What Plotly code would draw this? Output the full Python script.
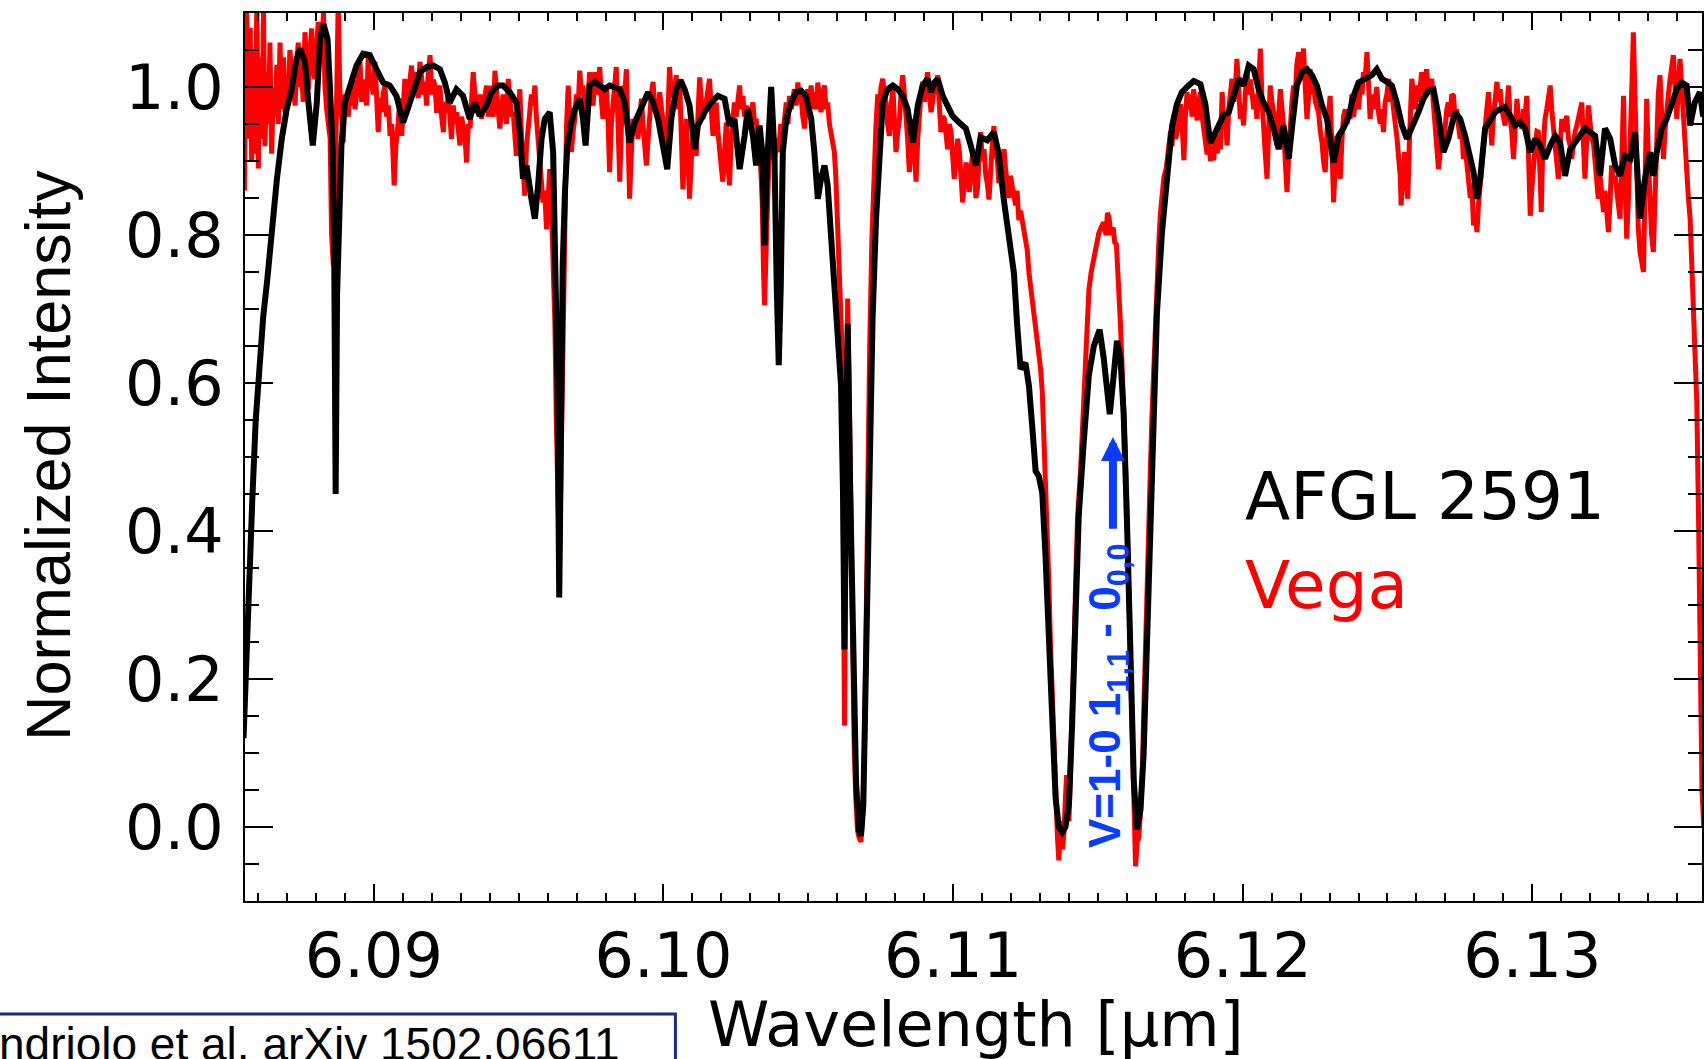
import plotly.graph_objects as go

# ---------------- data ----------------
afgl_wavelength = [
    6.08550, 6.08555, 6.08568, 6.08580, 6.08592, 6.08605, 6.08618, 6.08632, 6.08647, 6.08665,
    6.08682, 6.08699, 6.08716, 6.08733, 6.08745, 6.08762, 6.08774, 6.08789, 6.08803, 6.08814,
    6.08826, 6.08840, 6.08848, 6.08858, 6.08863, 6.08868, 6.08873, 6.08878, 6.08883, 6.08888,
    6.08900, 6.08917, 6.08940, 6.08963, 6.08986, 6.09009, 6.09032, 6.09055, 6.09078, 6.09101,
    6.09118, 6.09136, 6.09159, 6.09182, 6.09205, 6.09228, 6.09245, 6.09262, 6.09285, 6.09308,
    6.09331, 6.09348, 6.09366, 6.09389, 6.09406, 6.09429, 6.09446, 6.09469, 6.09492, 6.09504,
    6.09515, 6.09527, 6.09544, 6.09556, 6.09567, 6.09579, 6.09590, 6.09607, 6.09619, 6.09627,
    6.09634, 6.09640, 6.09646, 6.09652, 6.09660, 6.09668, 6.09680, 6.09694, 6.09711, 6.09722,
    6.09731, 6.09745, 6.09763, 6.09780, 6.09797, 6.09814, 6.09832, 6.09849, 6.09866, 6.09883,
    6.09901, 6.09924, 6.09947, 6.09964, 6.09981, 6.09998, 6.10013, 6.10027, 6.10044, 6.10059,
    6.10073, 6.10090, 6.10108, 6.10119, 6.10142, 6.10165, 6.10188, 6.10211, 6.10228, 6.10245,
    6.10263, 6.10280, 6.10291, 6.10309, 6.10320, 6.10332, 6.10341, 6.10349, 6.10357, 6.10372,
    6.10383, 6.10391, 6.10398, 6.10405, 6.10412, 6.10424, 6.10441, 6.10458, 6.10475, 6.10492,
    6.10510, 6.10521, 6.10533, 6.10544, 6.10556, 6.10567, 6.10579, 6.10590, 6.10602, 6.10613,
    6.10620, 6.10625, 6.10630, 6.10636, 6.10645, 6.10655, 6.10665, 6.10675, 6.10682, 6.10690,
    6.10700, 6.10711, 6.10722, 6.10734, 6.10745, 6.10757, 6.10774, 6.10792, 6.10809, 6.10826,
    6.10843, 6.10861, 6.10878, 6.10895, 6.10912, 6.10924, 6.10935, 6.10947, 6.10964, 6.10981,
    6.10998, 6.11021, 6.11044, 6.11061, 6.11079, 6.11095, 6.11118, 6.11141, 6.11158, 6.11175,
    6.11193, 6.11210, 6.11221, 6.11233, 6.11250, 6.11262, 6.11273, 6.11285, 6.11296, 6.11308,
    6.11319, 6.11331, 6.11342, 6.11354, 6.11365, 6.11377, 6.11388, 6.11400, 6.11411, 6.11423,
    6.11434, 6.11451, 6.11469, 6.11486, 6.11497, 6.11506, 6.11520, 6.11532, 6.11541, 6.11553,
    6.11566, 6.11578, 6.11589, 6.11601, 6.11612, 6.11624, 6.11635, 6.11647, 6.11658, 6.11670,
    6.11681, 6.11693, 6.11704, 6.11721, 6.11739, 6.11756, 6.11773, 6.11790, 6.11808, 6.11831,
    6.11854, 6.11871, 6.11888, 6.11905, 6.11923, 6.11934, 6.11952, 6.11969, 6.11986, 6.12003,
    6.12021, 6.12038, 6.12055, 6.12072, 6.12090, 6.12107, 6.12124, 6.12141, 6.12159, 6.12170,
    6.12187, 6.12205, 6.12222, 6.12239, 6.12256, 6.12274, 6.12291, 6.12314, 6.12331, 6.12348,
    6.12366, 6.12383, 6.12400, 6.12423, 6.12446, 6.12463, 6.12481, 6.12498, 6.12515, 6.12532,
    6.12550, 6.12567, 6.12584, 6.12607, 6.12624, 6.12642, 6.12659, 6.12676, 6.12693, 6.12710,
    6.12733, 6.12751, 6.12768, 6.12780, 6.12797, 6.12809, 6.12820, 6.12837, 6.12855, 6.12872,
    6.12889, 6.12906, 6.12924, 6.12941, 6.12958, 6.12975, 6.12993, 6.13010, 6.13027, 6.13044,
    6.13062, 6.13079, 6.13096, 6.13113, 6.13131, 6.13148, 6.13165, 6.13182, 6.13200, 6.13217,
    6.13234, 6.13251, 6.13269, 6.13286, 6.13303, 6.13320, 6.13338, 6.13355, 6.13372, 6.13389,
    6.13407, 6.13418, 6.13430, 6.13447, 6.13464, 6.13481, 6.13499, 6.13516, 6.13533, 6.13545,
    6.13561, 6.13579, 6.13590,
]
afgl_intensity = [
    0.12, 0.18, 0.32, 0.44, 0.55, 0.63, 0.69, 0.74, 0.81, 0.875,
    0.93, 0.97, 0.997, 1.038, 1.052, 1.034, 0.979, 0.921, 0.979, 1.065,
    1.085, 1.065, 1.002, 0.912, 0.78, 0.45, 0.72, 0.80, 0.85, 0.921,
    0.979, 1.002, 1.029, 1.045, 1.043, 1.024, 1.006, 1.002, 0.988, 0.952,
    0.97, 0.993, 1.02, 1.027, 1.029, 1.024, 1.006, 0.979, 0.997, 0.988,
    0.957, 0.979, 0.961, 0.975, 0.993, 1.002, 1.002, 0.993, 0.979, 0.939,
    0.876, 0.894, 0.849, 0.822, 0.867, 0.93, 0.957, 0.966, 0.912, 0.777,
    0.60, 0.31, 0.60, 0.76, 0.86, 0.92, 0.95, 0.97, 0.984, 0.957,
    0.921, 1.002, 1.007, 1.002, 0.997, 1.002, 1.0, 0.997, 0.979, 0.925,
    0.952, 0.975, 0.993, 0.979, 0.957, 0.921, 0.889, 0.957, 0.997, 1.009,
    0.997, 0.975, 0.916, 0.948, 0.966, 0.979, 0.988, 0.984, 0.948, 0.957,
    0.889, 0.934, 0.97, 0.934, 0.894, 0.948, 0.912, 0.786, 0.889, 1.0,
    0.912, 0.732, 0.624, 0.732, 0.912, 0.957, 0.979, 0.993, 0.995, 0.988,
    0.957, 0.912, 0.849, 0.876, 0.894, 0.867, 0.80, 0.732, 0.687, 0.597,
    0.45, 0.24, 0.45, 0.68, 0.45, 0.22, 0.06, -0.005, -0.012, 0.03,
    0.25, 0.552, 0.687, 0.822, 0.912, 0.979, 0.997, 1.002, 0.997, 0.988,
    0.97, 0.925, 0.975, 1.002, 1.011, 0.993, 1.006, 1.011, 0.988, 0.975,
    0.961, 0.952, 0.944, 0.921, 0.894, 0.932, 0.928, 0.939, 0.909, 0.848,
    0.802, 0.749, 0.68, 0.619, 0.627, 0.596, 0.543, 0.481, 0.474, 0.451,
    0.367, 0.252, 0.138, 0.039, 0.0, -0.007, 0.0, 0.031, 0.138, 0.291,
    0.421, 0.52, 0.611, 0.65, 0.665, 0.672, 0.634, 0.588, 0.558, 0.604,
    0.657, 0.634, 0.558, 0.405, 0.215, 0.062, -0.003, 0.023, 0.099, 0.252,
    0.405, 0.558, 0.695, 0.802, 0.886, 0.947, 0.977, 0.993, 1.0, 1.008,
    1.004, 0.977, 0.924, 0.939, 0.955, 0.962, 0.966, 0.988, 1.011, 1.002,
    1.029, 1.024, 0.997, 0.979, 0.966, 0.944, 0.916, 0.948, 0.903, 0.944,
    1.002, 1.02, 1.024, 1.016, 1.002, 0.975, 0.957, 0.898, 0.934, 0.944,
    0.961, 0.988, 1.006, 1.011, 1.016, 1.024, 1.011, 1.007, 1.002, 0.979,
    0.948, 0.93, 0.944, 0.966, 0.984, 0.995, 0.997, 0.961, 0.912, 0.93,
    0.966, 0.957, 0.934, 0.912, 0.885, 0.849, 0.876, 0.944, 0.957, 0.966,
    0.97, 0.973, 0.961, 0.948, 0.952, 0.944, 0.912, 0.93, 0.921, 0.903,
    0.921, 0.934, 0.925, 0.88, 0.916, 0.925, 0.934, 0.944, 0.939, 0.934,
    0.88, 0.944, 0.93, 0.894, 0.88, 0.907, 0.903, 0.939, 0.822, 0.876,
    0.912, 0.88, 0.912, 0.944, 0.957, 0.979, 0.997, 1.006, 1.002, 0.948,
    0.979, 0.993, 0.96,
]

vega_wavelength = [
    6.08553, 6.08560, 6.08567, 6.08573, 6.08578, 6.08584, 6.08590, 6.08596, 6.08601, 6.08607,
    6.08613, 6.08619, 6.08624, 6.08630, 6.08636, 6.08641, 6.08647, 6.08653, 6.08659, 6.08665,
    6.08670, 6.08676, 6.08682, 6.08688, 6.08693, 6.08699, 6.08705, 6.08710, 6.08716, 6.08722,
    6.08728, 6.08733, 6.08739, 6.08745, 6.08751, 6.08756, 6.08762, 6.08768, 6.08774, 6.08780,
    6.08785, 6.08791, 6.08797, 6.08803, 6.08808, 6.08814, 6.08820, 6.08826, 6.08831, 6.08837,
    6.08843, 6.08849, 6.08854, 6.08860, 6.08866, 6.08871, 6.08877, 6.08882, 6.08888, 6.08894,
    6.08900, 6.08906, 6.08912, 6.08917, 6.08923, 6.08929, 6.08935, 6.08940, 6.08946, 6.08952,
    6.08958, 6.08963, 6.08969, 6.08975, 6.08981, 6.08986, 6.08992, 6.08998, 6.09004, 6.09009,
    6.09015, 6.09021, 6.09027, 6.09032, 6.09038, 6.09044, 6.09050, 6.09056, 6.09062, 6.09070,
    6.09076, 6.09084, 6.09090, 6.09096, 6.09101, 6.09107, 6.09113, 6.09119, 6.09125, 6.09130,
    6.09136, 6.09142, 6.09148, 6.09153, 6.09159, 6.09165, 6.09171, 6.09176, 6.09182, 6.09188,
    6.09194, 6.09200, 6.09205, 6.09211, 6.09217, 6.09222, 6.09228, 6.09234, 6.09240, 6.09245,
    6.09251, 6.09257, 6.09263, 6.09268, 6.09274, 6.09280, 6.09286, 6.09291, 6.09297, 6.09303,
    6.09309, 6.09315, 6.09320, 6.09326, 6.09332, 6.09337, 6.09343, 6.09349, 6.09355, 6.09360,
    6.09366, 6.09372, 6.09378, 6.09383, 6.09389, 6.09395, 6.09400, 6.09406, 6.09412, 6.09418,
    6.09423, 6.09429, 6.09435, 6.09441, 6.09446, 6.09452, 6.09458, 6.09464, 6.09469, 6.09475,
    6.09481, 6.09487, 6.09492, 6.09498, 6.09504, 6.09510, 6.09515, 6.09521, 6.09527, 6.09533,
    6.09538, 6.09544, 6.09550, 6.09556, 6.09561, 6.09567, 6.09573, 6.09579, 6.09584, 6.09590,
    6.09596, 6.09602, 6.09607, 6.09613, 6.09619, 6.09625, 6.09630, 6.09635, 6.09641, 6.09647,
    6.09655, 6.09660, 6.09665, 6.09671, 6.09676, 6.09682, 6.09688, 6.09694, 6.09699, 6.09705,
    6.09711, 6.09717, 6.09722, 6.09728, 6.09734, 6.09740, 6.09745, 6.09751, 6.09757, 6.09763,
    6.09768, 6.09774, 6.09780, 6.09786, 6.09791, 6.09797, 6.09803, 6.09809, 6.09814, 6.09820,
    6.09826, 6.09832, 6.09837, 6.09843, 6.09849, 6.09855, 6.09860, 6.09866, 6.09872, 6.09878,
    6.09883, 6.09889, 6.09895, 6.09901, 6.09906, 6.09912, 6.09918, 6.09924, 6.09929, 6.09935,
    6.09941, 6.09947, 6.09952, 6.09958, 6.09964, 6.09970, 6.09975, 6.09981, 6.09987, 6.09993,
    6.09998, 6.10004, 6.10010, 6.10016, 6.10021, 6.10027, 6.10033, 6.10039, 6.10044, 6.10050,
    6.10056, 6.10062, 6.10067, 6.10073, 6.10079, 6.10085, 6.10090, 6.10096, 6.10102, 6.10108,
    6.10113, 6.10119, 6.10125, 6.10131, 6.10136, 6.10142, 6.10148, 6.10153, 6.10159, 6.10165,
    6.10171, 6.10176, 6.10182, 6.10188, 6.10194, 6.10200, 6.10205, 6.10211, 6.10217, 6.10222,
    6.10228, 6.10234, 6.10245, 6.10251, 6.10257, 6.10263, 6.10268, 6.10274, 6.10280, 6.10286,
    6.10291, 6.10297, 6.10303, 6.10309, 6.10314, 6.10320, 6.10326, 6.10332, 6.10337, 6.10341,
    6.10345, 6.10349, 6.10353, 6.10357, 6.10364, 6.10372, 6.10377, 6.10383, 6.10390, 6.10398,
    6.10405, 6.10412, 6.10418, 6.10424, 6.10430, 6.10435, 6.10441, 6.10447, 6.10452, 6.10458,
    6.10464, 6.10470, 6.10475, 6.10481, 6.10487, 6.10492, 6.10498, 6.10504, 6.10510, 6.10515,
    6.10521, 6.10527, 6.10533, 6.10538, 6.10544, 6.10550, 6.10556, 6.10561, 6.10567, 6.10573,
    6.10579, 6.10584, 6.10590, 6.10595, 6.10598, 6.10603, 6.10608, 6.10613, 6.10617, 6.10621,
    6.10625, 6.10630, 6.10636, 6.10641, 6.10646, 6.10652, 6.10658, 6.10664, 6.10670, 6.10676,
    6.10682, 6.10688, 6.10694, 6.10700, 6.10705, 6.10712, 6.10720, 6.10728, 6.10734, 6.10740,
    6.10746, 6.10751, 6.10757, 6.10763, 6.10769, 6.10774, 6.10780, 6.10786, 6.10792, 6.10798,
    6.10803, 6.10809, 6.10815, 6.10820, 6.10826, 6.10832, 6.10838, 6.10843, 6.10849, 6.10855,
    6.10861, 6.10866, 6.10872, 6.10878, 6.10884, 6.10889, 6.10895, 6.10901, 6.10906, 6.10912,
    6.10918, 6.10924, 6.10929, 6.10935, 6.10941, 6.10947, 6.10952, 6.10958, 6.10964, 6.10970,
    6.10975, 6.10981, 6.10987, 6.10993, 6.10998, 6.11004, 6.11010, 6.11016, 6.11022, 6.11027,
    6.11033, 6.11039, 6.11045, 6.11050, 6.11056, 6.11062, 6.11068, 6.11073, 6.11079, 6.11084,
    6.11090, 6.11095, 6.11101, 6.11107, 6.11113, 6.11118, 6.11124, 6.11130, 6.11135, 6.11141,
    6.11147, 6.11153, 6.11158, 6.11164, 6.11170, 6.11176, 6.11181, 6.11187, 6.11193, 6.11198,
    6.11204, 6.11210, 6.11216, 6.11221, 6.11227, 6.11233, 6.11239, 6.11244, 6.11250, 6.11256,
    6.11262, 6.11268, 6.11273, 6.11279, 6.11285, 6.11290, 6.11296, 6.11302, 6.11308, 6.11313,
    6.11319, 6.11325, 6.11331, 6.11336, 6.11342, 6.11348, 6.11354, 6.11360, 6.11365, 6.11369,
    6.11373, 6.11378, 6.11383, 6.11388, 6.11392, 6.11396, 6.11400, 6.11405, 6.11411, 6.11417,
    6.11423, 6.11430, 6.11440, 6.11448, 6.11457, 6.11463, 6.11469, 6.11477, 6.11486, 6.11494,
    6.11503, 6.11511, 6.11520, 6.11528, 6.11533, 6.11538, 6.11545, 6.11553, 6.11558, 6.11564,
    6.11570, 6.11576, 6.11581, 6.11587, 6.11593, 6.11599, 6.11605, 6.11610, 6.11616, 6.11622,
    6.11626, 6.11630, 6.11636, 6.11641, 6.11647, 6.11653, 6.11658, 6.11664, 6.11670, 6.11676,
    6.11681, 6.11687, 6.11693, 6.11699, 6.11704, 6.11710, 6.11716, 6.11722, 6.11728, 6.11736,
    6.11745, 6.11751, 6.11756, 6.11762, 6.11768, 6.11774, 6.11779, 6.11785, 6.11791, 6.11797,
    6.11802, 6.11808, 6.11814, 6.11820, 6.11825, 6.11831, 6.11837, 6.11843, 6.11848, 6.11854,
    6.11860, 6.11866, 6.11871, 6.11877, 6.11883, 6.11889, 6.11894, 6.11900, 6.11906, 6.11912,
    6.11917, 6.11923, 6.11929, 6.11935, 6.11940, 6.11946, 6.11952, 6.11957, 6.11963, 6.11969,
    6.11975, 6.11980, 6.11986, 6.11992, 6.11998, 6.12003, 6.12009, 6.12015, 6.12021, 6.12026,
    6.12032, 6.12038, 6.12043, 6.12049, 6.12055, 6.12061, 6.12067, 6.12072, 6.12078, 6.12084,
    6.12090, 6.12095, 6.12101, 6.12107, 6.12113, 6.12118, 6.12124, 6.12130, 6.12136, 6.12141,
    6.12147, 6.12153, 6.12159, 6.12164, 6.12170, 6.12176, 6.12182, 6.12187, 6.12193, 6.12199,
    6.12205, 6.12210, 6.12216, 6.12222, 6.12228, 6.12233, 6.12239, 6.12245, 6.12251, 6.12256,
    6.12262, 6.12268, 6.12274, 6.12279, 6.12285, 6.12291, 6.12297, 6.12302, 6.12308, 6.12314,
    6.12320, 6.12325, 6.12331, 6.12337, 6.12343, 6.12348, 6.12354, 6.12360, 6.12366, 6.12371,
    6.12377, 6.12383, 6.12389, 6.12394, 6.12400, 6.12406, 6.12412, 6.12417, 6.12423, 6.12429,
    6.12435, 6.12440, 6.12446, 6.12452, 6.12458, 6.12463, 6.12469, 6.12475, 6.12481, 6.12486,
    6.12492, 6.12498, 6.12504, 6.12510, 6.12515, 6.12521, 6.12527, 6.12533, 6.12538, 6.12544,
    6.12547, 6.12553, 6.12559, 6.12564, 6.12570, 6.12576, 6.12581, 6.12584, 6.12590, 6.12596,
    6.12601, 6.12607, 6.12613, 6.12618, 6.12624, 6.12630, 6.12635, 6.12641, 6.12647, 6.12653,
    6.12658, 6.12664, 6.12670, 6.12676, 6.12682, 6.12687, 6.12693, 6.12699, 6.12705, 6.12710,
    6.12716, 6.12722, 6.12728, 6.12733, 6.12739, 6.12745, 6.12751, 6.12756, 6.12762, 6.12768,
    6.12774, 6.12780, 6.12786, 6.12791, 6.12797, 6.12803, 6.12809, 6.12814, 6.12820, 6.12826,
    6.12832, 6.12837, 6.12843, 6.12849, 6.12855, 6.12860, 6.12866, 6.12872, 6.12878, 6.12883,
    6.12889, 6.12895, 6.12900, 6.12906, 6.12912, 6.12918, 6.12923, 6.12929, 6.12935, 6.12941,
    6.12947, 6.12952, 6.12958, 6.12964, 6.12970, 6.12975, 6.12981, 6.12987, 6.12993, 6.12998,
    6.13004, 6.13010, 6.13016, 6.13021, 6.13027, 6.13031, 6.13035, 6.13039, 6.13044, 6.13050,
    6.13056, 6.13062, 6.13067, 6.13073, 6.13079, 6.13085, 6.13090, 6.13096, 6.13102, 6.13108,
    6.13113, 6.13119, 6.13125, 6.13131, 6.13136, 6.13142, 6.13148, 6.13154, 6.13159, 6.13165,
    6.13171, 6.13177, 6.13182, 6.13188, 6.13194, 6.13200, 6.13205, 6.13211, 6.13217, 6.13222,
    6.13228, 6.13234, 6.13240, 6.13246, 6.13251, 6.13257, 6.13263, 6.13269, 6.13274, 6.13280,
    6.13286, 6.13292, 6.13297, 6.13303, 6.13309, 6.13315, 6.13320, 6.13326, 6.13332, 6.13338,
    6.13343, 6.13349, 6.13355, 6.13361, 6.13366, 6.13372, 6.13378, 6.13384, 6.13390, 6.13395,
    6.13401, 6.13407, 6.13412, 6.13418, 6.13424, 6.13430, 6.13435, 6.13441, 6.13447, 6.13453,
    6.13458, 6.13464, 6.13470, 6.13476, 6.13481, 6.13487, 6.13493, 6.13499, 6.13504, 6.13510,
    6.13516, 6.13522, 6.13527, 6.13533, 6.13539, 6.13545, 6.13550, 6.13556, 6.13562, 6.13568,
    6.13574, 6.13580, 6.13586, 6.13592,
]
vega_intensity = [
    0.86, 1.12, 0.93, 1.08, 0.90, 1.05, 0.91, 1.12, 0.89, 1.04,
    0.93, 1.10, 0.92, 1.02, 0.95, 1.06, 0.91, 1.00, 0.96, 1.03,
    0.95, 1.06, 0.97, 1.04, 0.966, 1.01, 0.988, 1.05, 1.024, 0.99,
    0.975, 1.03, 1.06, 1.00, 1.016, 0.98, 1.074, 1.03, 0.997, 1.05,
    1.079, 1.02, 1.011, 1.06, 1.088, 1.05, 1.047, 1.10, 1.002, 0.97,
    0.944, 0.93, 0.80, 0.759, 0.85, 0.95, 1.12, 1.0, 0.944, 0.925,
    0.99, 0.979, 0.96, 1.002, 0.975, 1.01, 0.97, 0.99, 1.015, 1.034,
    0.98, 1.01, 1.002, 0.975, 1.047, 1.0, 1.007, 0.99, 1.034, 0.98,
    0.939, 0.985, 0.966, 0.99, 1.002, 0.96, 0.975, 0.934, 0.95, 0.867,
    0.92, 0.952, 0.985, 0.934, 0.96, 1.011, 0.97, 0.984, 1.01, 1.029,
    0.99, 1.02, 1.0, 0.985, 1.034, 1.005, 0.99, 1.007, 0.975, 1.02,
    1.043, 0.99, 1.01, 1.002, 0.965, 0.99, 1.002, 0.96, 0.939, 0.98,
    0.966, 0.99, 0.95, 0.93, 0.975, 0.95, 0.966, 0.94, 0.921, 0.96,
    0.948, 0.93, 0.898, 0.95, 0.944, 0.98, 1.02, 0.99, 0.965, 0.975,
    0.99, 0.957, 0.97, 0.99, 1.002, 0.96, 1.002, 0.98, 0.96, 1.022,
    0.99, 0.97, 0.944, 0.985, 0.99, 0.979, 0.95, 1.011, 0.99, 0.96,
    0.966, 0.94, 0.907, 0.95, 0.997, 0.93, 0.90, 0.853, 0.92, 0.94,
    0.957, 0.99, 0.975, 1.002, 0.96, 0.93, 0.90, 0.87, 0.844, 0.86,
    0.808, 0.85, 0.889, 0.84, 0.777, 0.68, 0.55, 0.45, 0.35, 0.50,
    0.75, 0.87, 0.944, 1.002, 0.96, 0.912, 0.94, 0.957, 0.99, 0.97,
    1.022, 0.99, 1.002, 0.97, 0.948, 0.985, 1.02, 0.99, 0.975, 1.02,
    0.99, 1.0, 1.027, 0.98, 0.957, 0.99, 1.002, 0.95, 0.885, 0.95,
    0.979, 1.0, 1.027, 0.95, 0.872, 0.95, 1.002, 0.99, 1.024, 0.93,
    0.849, 0.91, 0.957, 0.94, 0.96, 0.93, 0.96, 0.984, 0.95, 0.92,
    0.894, 0.93, 0.966, 0.99, 1.007, 0.97, 0.979, 0.96, 0.993, 0.97,
    0.957, 0.93, 0.912, 0.97, 1.027, 0.99, 0.988, 0.99, 1.016, 0.97,
    1.007, 0.93, 0.862, 0.91, 0.957, 0.90, 0.849, 0.90, 0.934, 0.93,
    0.907, 0.96, 1.013, 0.98, 0.957, 0.965, 0.979, 0.99, 1.011, 0.97,
    0.934, 0.96, 0.979, 0.94, 0.903, 0.89, 0.872, 0.91, 0.952, 0.90,
    0.867, 0.93, 0.979, 0.96, 0.99, 1.002, 0.97, 0.988, 0.96, 0.975,
    0.95, 0.948, 0.97, 0.979, 0.95, 0.957, 0.93, 0.921, 0.88, 0.844,
    0.76, 0.705, 0.76, 0.844, 0.90, 0.921, 0.95, 0.898, 0.93, 0.912,
    0.95, 0.934, 0.96, 0.979, 0.95, 0.988, 0.97, 0.99, 0.997, 0.975,
    1.006, 0.98, 0.988, 0.96, 0.944, 0.97, 0.997, 0.98, 1.002, 0.97,
    0.993, 0.97, 1.006, 0.985, 0.966, 0.99, 1.002, 0.97, 0.979, 0.95,
    0.934, 0.93, 0.912, 0.88, 0.844, 0.78, 0.732, 0.68, 0.642, 0.40,
    0.137, 0.40, 0.714, 0.60, 0.42, 0.25, 0.12, 0.04, -0.005, -0.015,
    -0.02, 0.02, 0.10, 0.28, 0.45, 0.65, 0.80, 0.898, 0.95, 0.99,
    0.97, 1.0, 1.011, 0.99, 0.979, 0.95, 0.934, 0.97, 1.002, 0.95,
    0.912, 0.94, 0.957, 0.99, 1.016, 0.99, 0.966, 0.93, 0.885, 0.93,
    0.957, 0.92, 0.872, 0.93, 0.979, 0.99, 1.007, 0.98, 1.0, 1.02,
    0.99, 0.966, 0.98, 1.002, 0.99, 1.016, 0.98, 0.939, 0.96, 0.957,
    0.94, 0.916, 0.95, 0.939, 0.91, 0.876, 0.90, 0.93, 0.912, 0.88,
    0.844, 0.87, 0.898, 0.88, 0.858, 0.89, 0.912, 0.89, 0.85, 0.863,
    0.90, 0.939, 0.90, 0.916, 0.88, 0.87, 0.848, 0.90, 0.92, 0.947,
    0.91, 0.901, 0.87, 0.878, 0.90, 0.916, 0.89, 0.871, 0.85, 0.88,
    0.863, 0.85, 0.84, 0.86, 0.82, 0.833, 0.82, 0.81, 0.802, 0.78,
    0.749, 0.73, 0.71, 0.695, 0.68, 0.66, 0.65, 0.62, 0.588, 0.54,
    0.481, 0.40, 0.328, 0.25, 0.176, 0.10, 0.023, -0.01, -0.045, 0.0,
    0.008, -0.03, -0.007, 0.04, 0.07, 0.03, 0.008, 0.07, 0.138, 0.23,
    0.328, 0.42, 0.481, 0.56, 0.619, 0.68, 0.726, 0.75, 0.771, 0.79,
    0.802, 0.81, 0.817, 0.80, 0.83, 0.825, 0.80, 0.81, 0.79, 0.787,
    0.75, 0.695, 0.65, 0.596, 0.52, 0.443, 0.35, 0.252, 0.15, 0.062,
    0.0, -0.053, -0.02, -0.015, 0.02, 0.062, 0.15, 0.252, 0.33, 0.405,
    0.48, 0.558, 0.63, 0.695, 0.74, 0.787, 0.83, 0.86, 0.878, 0.89,
    0.916, 0.94, 0.92, 0.962, 0.93, 0.939, 0.96, 0.977, 0.95, 0.901,
    0.96, 0.993, 0.97, 0.99, 0.96, 0.997, 0.97, 0.955, 0.98, 0.993,
    0.96, 0.939, 0.92, 0.909, 0.93, 0.90, 0.92, 0.901, 0.94, 0.91,
    0.93, 0.916, 0.993, 0.95, 0.96, 0.921, 0.97, 0.99, 1.011, 0.98,
    1.0, 1.038, 0.99, 0.957, 0.97, 0.948, 0.99, 1.02, 0.99, 1.01,
    0.993, 0.97, 0.99, 0.957, 1.0, 1.052, 0.98, 0.934, 0.91, 0.876,
    0.95, 1.002, 0.98, 0.966, 0.94, 0.921, 0.96, 0.997, 0.97, 0.948,
    0.90, 0.858, 0.91, 0.957, 0.98, 1.002, 0.99, 1.03, 1.047, 1.01,
    1.03, 1.052, 1.0, 0.957, 0.99, 1.024, 0.99, 1.002, 0.98, 0.97,
    0.966, 0.94, 0.925, 0.90, 0.885, 0.94, 0.97, 0.988, 0.92, 0.844,
    0.90, 0.934, 0.90, 0.876, 0.93, 0.96, 0.97, 0.95, 0.96, 0.957,
    0.99, 0.96, 0.979, 0.99, 0.97, 1.002, 0.99, 1.02, 1.01, 1.047,
    1.0, 0.957, 0.99, 0.97, 0.984, 1.0, 0.966, 0.95, 0.97, 0.939,
    0.98, 0.99, 1.011, 0.98, 0.99, 0.975, 0.95, 0.93, 0.912, 0.88,
    0.84, 0.88, 0.912, 0.88, 0.849, 0.93, 0.98, 1.011, 0.99, 0.97,
    1.002, 0.98, 1.0, 1.02, 0.99, 1.01, 1.024, 0.99, 1.0, 1.011,
    0.98, 0.957, 0.92, 0.889, 0.91, 0.93, 0.921, 0.95, 0.97, 0.979,
    0.96, 0.99, 0.988, 0.96, 0.97, 0.948, 0.93, 0.95, 0.903, 0.92,
    0.89, 0.872, 0.85, 0.87, 0.813, 0.83, 0.804, 0.84, 0.867, 0.91,
    0.93, 0.957, 0.97, 0.993, 0.95, 0.921, 0.96, 0.99, 1.007, 0.98,
    0.997, 0.97, 0.96, 0.948, 0.97, 1.002, 0.96, 0.94, 0.903, 0.95,
    0.984, 0.96, 0.95, 0.944, 0.97, 0.96, 0.988, 0.92, 0.826, 0.86,
    0.898, 0.92, 0.94, 0.939, 0.88, 0.831, 0.90, 0.93, 0.957, 0.97,
    0.99, 1.002, 0.97, 0.944, 0.92, 0.90, 0.876, 0.92, 0.957, 0.94,
    0.95, 0.961, 0.93, 0.92, 0.903, 0.93, 0.94, 0.948, 0.96, 0.97,
    0.979, 0.92, 0.876, 0.93, 0.975, 0.95, 0.93, 0.925, 0.90, 0.87,
    0.849, 0.88, 0.86, 0.831, 0.86, 0.83, 0.804, 0.85, 0.894, 0.87,
    0.88, 0.858, 0.84, 0.822, 0.90, 0.988, 0.88, 0.795, 0.85, 0.912,
    0.99, 1.074, 0.95, 0.858, 0.81, 0.777, 0.76, 0.75, 0.88, 0.984,
    0.90, 0.84, 0.80, 0.777, 0.87, 0.957, 0.99, 1.016, 0.95, 0.903,
    0.94, 0.979, 0.99, 1.011, 1.03, 1.043, 1.0, 0.957, 1.0, 1.038,
    1.0, 0.957, 0.92, 0.876, 0.85, 0.822, 0.76, 0.687, 0.63, 0.574,
    0.42, 0.22, 0.05, 0.0,
]

if len(afgl_wavelength) != len(afgl_intensity):
    raise ValueError(f"AFGL lengths {len(afgl_wavelength)} vs {len(afgl_intensity)}")
if len(vega_wavelength) != len(vega_intensity):
    raise ValueError(f"Vega lengths {len(vega_wavelength)} vs {len(vega_intensity)}")

x_range = [6.08555, 6.13586]
y_range = [-0.1, 1.1]
x_major = [6.09, 6.10, 6.11, 6.12, 6.13]
y_major = [0.0, 0.2, 0.4, 0.6, 0.8, 1.0]

series_names = ["AFGL 2591", "Vega"]
series_colors = ["#000000", "#ff0000"]
line_label = "V=1-0 1<sub>1,1</sub> - 0<sub>0,0</sub>"
line_label_pos = (6.11535, 0.177)
arrow_tip = (6.11552, 0.527)
arrow_tail = (6.11552, 0.401)
citation = "ndriolo et al. arXiv 1502.06611"

# ---------------- figure ----------------
W, H = 1704, 1059
ML, MR, MT, MB = 245, 0, 13, 158
PW, PH = W - ML - MR, H - MT - MB

def px(xp):
    return (xp - ML) / PW

def py(yp):
    return (H - MB - yp) / PH

BLUE = "#0a3cff"
TICKFONT = dict(family="DejaVu Sans", size=62, color="black")

fig = go.Figure()
fig.add_trace(go.Scatter(x=vega_wavelength, y=vega_intensity, mode="lines",
                         line=dict(color=series_colors[1], width=5),
                         name=series_names[1], showlegend=False))
fig.add_trace(go.Scatter(x=afgl_wavelength, y=afgl_intensity, mode="lines",
                         line=dict(color=series_colors[0], width=6),
                         name=series_names[0], showlegend=False))

fig.update_layout(
    width=W, height=H, autosize=False,
    margin=dict(l=ML, r=MR, t=MT, b=MB, pad=0),
    paper_bgcolor="white", plot_bgcolor="white",
    showlegend=False,
)
fig.update_xaxes(
    range=x_range, tickmode="array", tickvals=x_major,
    ticktext=[f"{v:.2f}" for v in x_major],
    ticks="inside", ticklen=17, tickwidth=2, tickcolor="black",
    showline=True, linewidth=2, linecolor="black", mirror="ticks",
    showgrid=False, zeroline=False, tickfont=TICKFONT,
    ticklabelstandoff=0,
    minor=dict(dtick=0.001, tick0=6.09, ticks="inside", ticklen=8,
               tickwidth=2, tickcolor="black", showgrid=False),
)
fig.update_yaxes(
    range=y_range, tickmode="array", tickvals=y_major,
    ticktext=[f"{v:.1f}" for v in y_major],
    ticks="inside", ticklen=28, tickwidth=2, tickcolor="black",
    showline=True, linewidth=2, linecolor="black", mirror="ticks",
    showgrid=False, zeroline=False, tickfont=TICKFONT,
    ticklabelstandoff=7,
    minor=dict(dtick=0.05, tick0=0, ticks="inside", ticklen=14,
               tickwidth=2, tickcolor="black", showgrid=False),
)

annotations = [
    dict(text="Normalized Intensity", xref="paper", yref="paper",
         x=px(47.7), y=py(455), textangle=-90, showarrow=False,
         xanchor="center", yanchor="middle",
         font=dict(family="Liberation Sans", size=63, color="black")),
    dict(text="Wavelength [μm]", xref="paper", yref="paper",
         x=px(977), y=py(1024), showarrow=False,
         xanchor="center", yanchor="middle",
         font=dict(family="DejaVu Sans", size=62, color="black")),
    dict(text=series_names[0], x=6.12, y=0.446, xref="x", yref="y",
         showarrow=False, xanchor="left", yanchor="middle",
         font=dict(family="DejaVu Sans", size=66, color=series_colors[0])),
    dict(text=series_names[1], x=6.12, y=0.326, xref="x", yref="y",
         showarrow=False, xanchor="left", yanchor="middle",
         font=dict(family="DejaVu Sans", size=66, color=series_colors[1])),
    dict(text="<b>" + line_label + "</b>", x=line_label_pos[0], y=line_label_pos[1],
         xref="x", yref="y", textangle=-90, showarrow=False,
         xanchor="center", yanchor="middle",
         font=dict(family="Liberation Sans", size=44, color=BLUE)),
    dict(text="", x=arrow_tip[0], y=arrow_tip[1], xref="x", yref="y",
         ax=arrow_tail[0], ay=arrow_tail[1], axref="x", ayref="y",
         showarrow=True, arrowhead=2, arrowsize=0.6, arrowwidth=8,
         arrowcolor=BLUE),
    dict(text=citation, xref="paper", yref="paper",
         x=px(-3), y=py(1072), xanchor="left", yanchor="bottom",
         showarrow=False,
         font=dict(family="Liberation Sans", size=46, color="black")),
]
fig.update_layout(annotations=annotations)

fig.add_shape(type="rect", xref="paper", yref="paper",
              x0=px(-20), x1=px(676), y0=py(1014), y1=py(1100),
              line=dict(color="#1a2888", width=3), fillcolor="rgba(0,0,0,0)",
              layer="above")

fig.write_html("out.html")
